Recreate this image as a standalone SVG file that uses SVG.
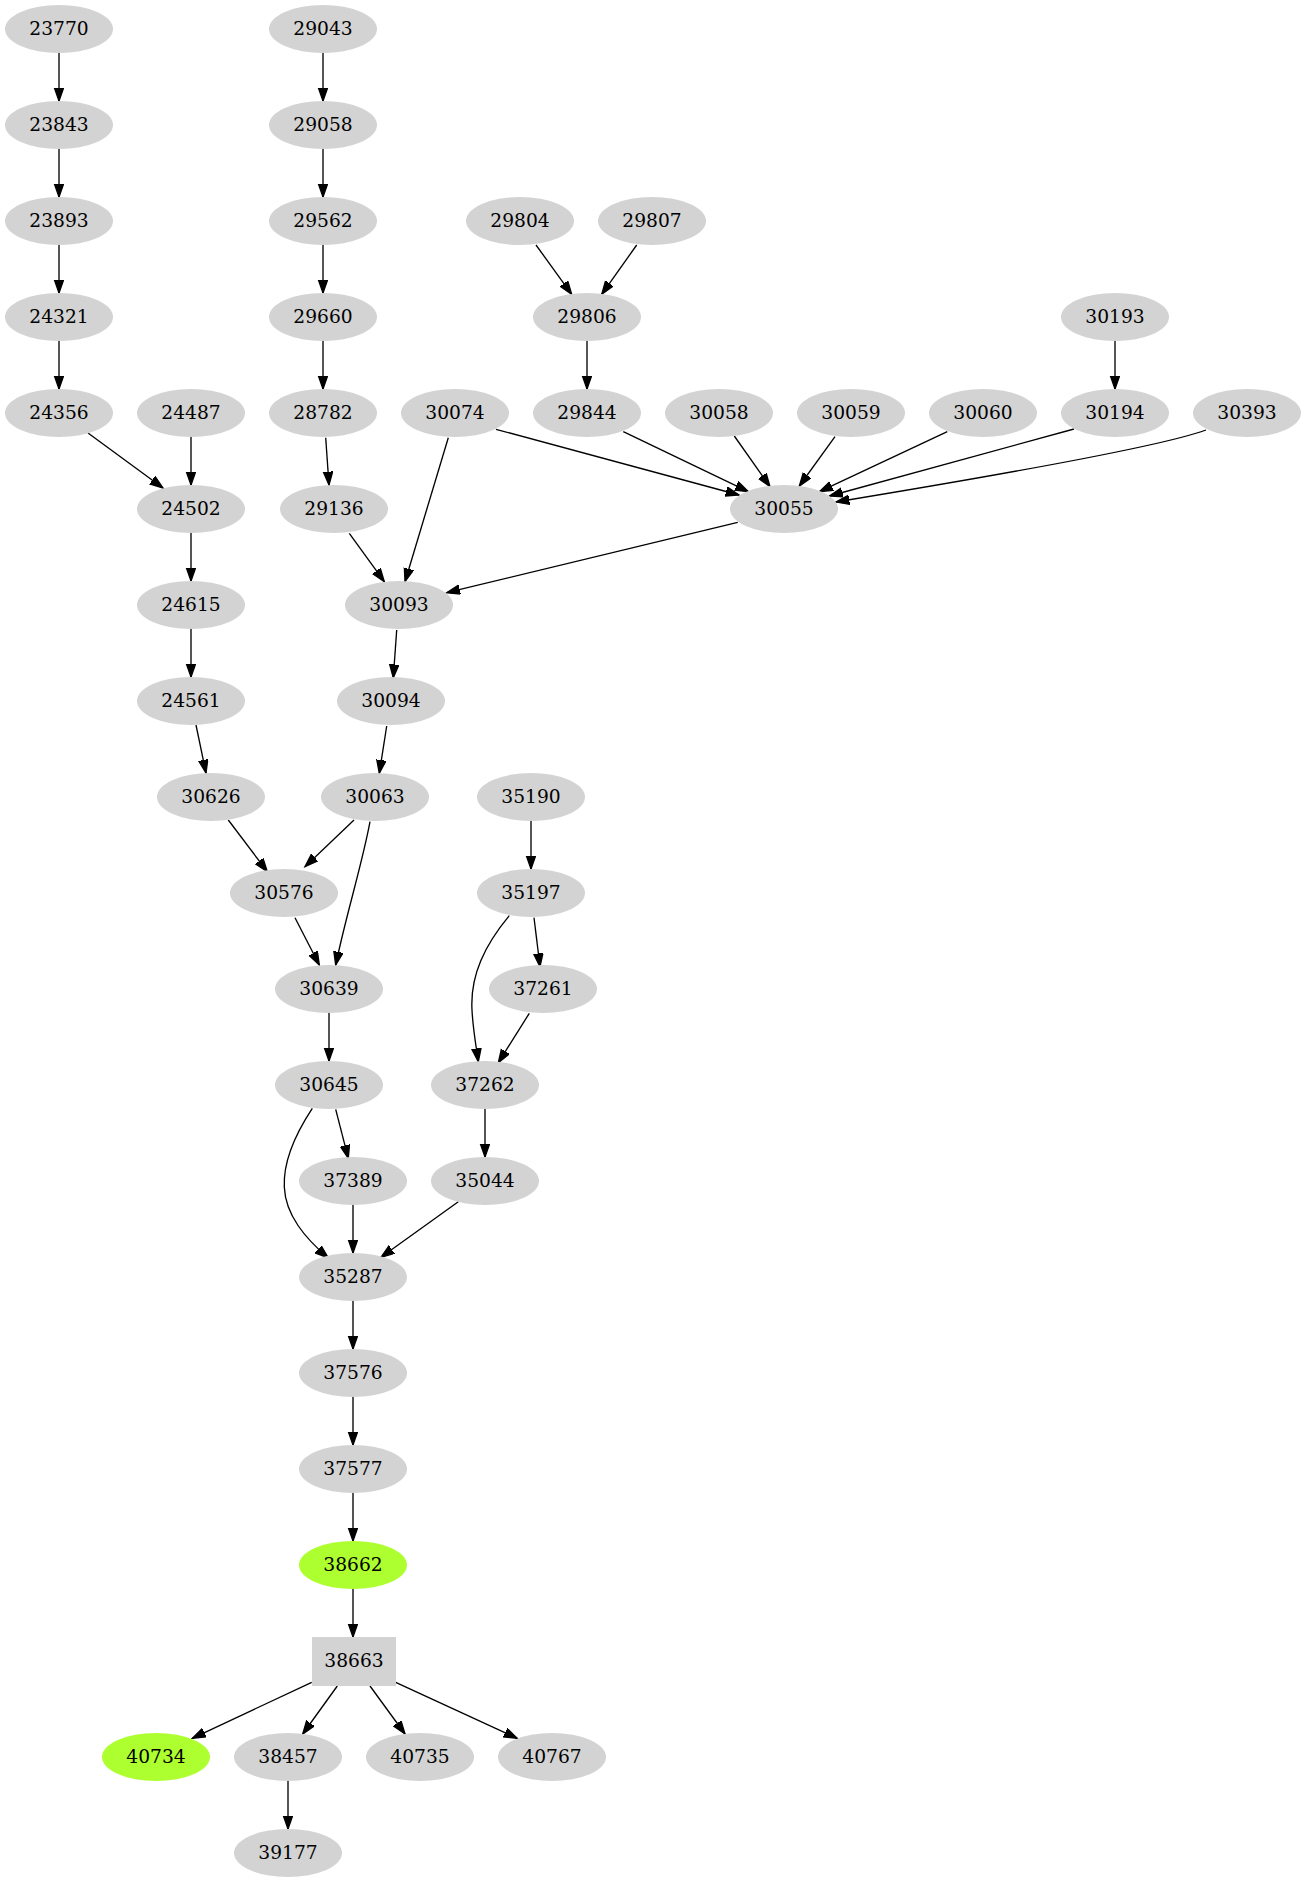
<svg xmlns="http://www.w3.org/2000/svg" width="1306" height="1883" viewBox="0 0 1306 1883">
<style>
.n ellipse,.n rect{fill:#d3d3d3;stroke:none}
.g ellipse{fill:#adff2f}
.n text{font-family:"DejaVu Serif","Liberation Serif",serif;font-size:18.67px;text-anchor:middle;fill:#000}
.e path{fill:none;stroke:#000;stroke-width:1.33;marker-end:url(#ah)}
</style>
<defs>
<marker id="ah" markerUnits="userSpaceOnUse" markerWidth="16" markerHeight="12" refX="13.3" refY="5" orient="auto" viewBox="0 0 16 12">
<path d="M0,0.33 L13.3,5 L0,9.67 z" fill="#000" stroke="#000" stroke-width="1.33"/>
</marker>
</defs>
<rect width="1306" height="1883" fill="#fff"/>
<g id="edges" class="e">
<path d="M59,53 L59,101"/>
<path d="M59,149 L59,197"/>
<path d="M59,245 L59,293"/>
<path d="M59,341 L59,389"/>
<path d="M88,433 L163,488"/>
<path d="M191,437 L191,485"/>
<path d="M191,533 L191,581"/>
<path d="M191,629 L191,677"/>
<path d="M196,725 L206,773"/>
<path d="M323,53 L323,101"/>
<path d="M323,149 L323,197"/>
<path d="M323,245 L323,293"/>
<path d="M323,341 L323,389"/>
<path d="M325.7,437.7 L329,485"/>
<path d="M349.3,533.3 L384.3,581.7"/>
<path d="M448.3,437.7 L405,581.7"/>
<path d="M737.7,522.3 L446.7,592.7"/>
<path d="M496,429.3 L739,495"/>
<path d="M623.3,431.7 L748.3,491.7"/>
<path d="M734.3,436 L770,486.7"/>
<path d="M835,436.7 L799.3,486"/>
<path d="M947.3,431.7 L819.5,491.7"/>
<path d="M1074,429 L829.5,496"/>
<path d="M1206,430 C1160,447 1000,475 836,502"/>
<path d="M536,245 L571.7,294.3"/>
<path d="M636.7,245 L601.7,294.3"/>
<path d="M587,341 L587,389"/>
<path d="M1115,341 L1115,389"/>
<path d="M396.7,630 L393.3,677.7"/>
<path d="M386.7,726 L379.3,773.3"/>
<path d="M354,820 L305,866.7"/>
<path d="M228.3,820 L267.3,871.7"/>
<path d="M370,821.7 C362,865 346,915 335.7,965"/>
<path d="M295,917.7 L319.3,965"/>
<path d="M329,1013 L329,1061"/>
<path d="M531,821 L531,869"/>
<path d="M534,917.7 L540,966.7"/>
<path d="M509.3,915.7 C485,945 470,975 472,1010 C473,1030 476,1045 478.3,1061.7"/>
<path d="M529.3,1013.3 L498.3,1062.7"/>
<path d="M335.7,1109.3 L348.3,1158.3"/>
<path d="M312.3,1108.3 C298,1130 283,1160 284.3,1187 C285.5,1215 305,1238 328.3,1258"/>
<path d="M353,1205 L353,1253"/>
<path d="M485,1109 L485,1157"/>
<path d="M458.3,1201.7 L381,1257.3"/>
<path d="M353,1301 L353,1349"/>
<path d="M353,1397 L353,1445"/>
<path d="M353,1493 L353,1541"/>
<path d="M353,1589 L353,1637"/>
<path d="M311.7,1682.3 L192.3,1738.3"/>
<path d="M337.3,1686 L302.7,1734"/>
<path d="M370,1686 L405,1734"/>
<path d="M395.7,1682.3 L517.3,1738.3"/>
<path d="M288,1781 L288,1829"/>
</g>
<g id="n23770" class="n"><ellipse cx="59" cy="29" rx="54" ry="24"/><text x="59" y="35">23770</text></g>
<g id="n29043" class="n"><ellipse cx="323" cy="29" rx="54" ry="24"/><text x="323" y="35">29043</text></g>
<g id="n23843" class="n"><ellipse cx="59" cy="125" rx="54" ry="24"/><text x="59" y="131">23843</text></g>
<g id="n29058" class="n"><ellipse cx="323" cy="125" rx="54" ry="24"/><text x="323" y="131">29058</text></g>
<g id="n23893" class="n"><ellipse cx="59" cy="221" rx="54" ry="24"/><text x="59" y="227">23893</text></g>
<g id="n29562" class="n"><ellipse cx="323" cy="221" rx="54" ry="24"/><text x="323" y="227">29562</text></g>
<g id="n29804" class="n"><ellipse cx="520" cy="221" rx="54" ry="24"/><text x="520" y="227">29804</text></g>
<g id="n29807" class="n"><ellipse cx="652" cy="221" rx="54" ry="24"/><text x="652" y="227">29807</text></g>
<g id="n24321" class="n"><ellipse cx="59" cy="317" rx="54" ry="24"/><text x="59" y="323">24321</text></g>
<g id="n29660" class="n"><ellipse cx="323" cy="317" rx="54" ry="24"/><text x="323" y="323">29660</text></g>
<g id="n29806" class="n"><ellipse cx="587" cy="317" rx="54" ry="24"/><text x="587" y="323">29806</text></g>
<g id="n30193" class="n"><ellipse cx="1115" cy="317" rx="54" ry="24"/><text x="1115" y="323">30193</text></g>
<g id="n24356" class="n"><ellipse cx="59" cy="413" rx="54" ry="24"/><text x="59" y="419">24356</text></g>
<g id="n24487" class="n"><ellipse cx="191" cy="413" rx="54" ry="24"/><text x="191" y="419">24487</text></g>
<g id="n28782" class="n"><ellipse cx="323" cy="413" rx="54" ry="24"/><text x="323" y="419">28782</text></g>
<g id="n30074" class="n"><ellipse cx="455" cy="413" rx="54" ry="24"/><text x="455" y="419">30074</text></g>
<g id="n29844" class="n"><ellipse cx="587" cy="413" rx="54" ry="24"/><text x="587" y="419">29844</text></g>
<g id="n30058" class="n"><ellipse cx="719" cy="413" rx="54" ry="24"/><text x="719" y="419">30058</text></g>
<g id="n30059" class="n"><ellipse cx="851" cy="413" rx="54" ry="24"/><text x="851" y="419">30059</text></g>
<g id="n30060" class="n"><ellipse cx="983" cy="413" rx="54" ry="24"/><text x="983" y="419">30060</text></g>
<g id="n30194" class="n"><ellipse cx="1115" cy="413" rx="54" ry="24"/><text x="1115" y="419">30194</text></g>
<g id="n30393" class="n"><ellipse cx="1247" cy="413" rx="54" ry="24"/><text x="1247" y="419">30393</text></g>
<g id="n24502" class="n"><ellipse cx="191" cy="509" rx="54" ry="24"/><text x="191" y="515">24502</text></g>
<g id="n29136" class="n"><ellipse cx="334" cy="509" rx="54" ry="24"/><text x="334" y="515">29136</text></g>
<g id="n30055" class="n"><ellipse cx="784" cy="509" rx="54" ry="24"/><text x="784" y="515">30055</text></g>
<g id="n24615" class="n"><ellipse cx="191" cy="605" rx="54" ry="24"/><text x="191" y="611">24615</text></g>
<g id="n30093" class="n"><ellipse cx="399" cy="605" rx="54" ry="24"/><text x="399" y="611">30093</text></g>
<g id="n24561" class="n"><ellipse cx="191" cy="701" rx="54" ry="24"/><text x="191" y="707">24561</text></g>
<g id="n30094" class="n"><ellipse cx="391" cy="701" rx="54" ry="24"/><text x="391" y="707">30094</text></g>
<g id="n30626" class="n"><ellipse cx="211" cy="797" rx="54" ry="24"/><text x="211" y="803">30626</text></g>
<g id="n30063" class="n"><ellipse cx="375" cy="797" rx="54" ry="24"/><text x="375" y="803">30063</text></g>
<g id="n35190" class="n"><ellipse cx="531" cy="797" rx="54" ry="24"/><text x="531" y="803">35190</text></g>
<g id="n30576" class="n"><ellipse cx="284" cy="893" rx="54" ry="24"/><text x="284" y="899">30576</text></g>
<g id="n35197" class="n"><ellipse cx="531" cy="893" rx="54" ry="24"/><text x="531" y="899">35197</text></g>
<g id="n30639" class="n"><ellipse cx="329" cy="989" rx="54" ry="24"/><text x="329" y="995">30639</text></g>
<g id="n37261" class="n"><ellipse cx="543" cy="989" rx="54" ry="24"/><text x="543" y="995">37261</text></g>
<g id="n30645" class="n"><ellipse cx="329" cy="1085" rx="54" ry="24"/><text x="329" y="1091">30645</text></g>
<g id="n37262" class="n"><ellipse cx="485" cy="1085" rx="54" ry="24"/><text x="485" y="1091">37262</text></g>
<g id="n37389" class="n"><ellipse cx="353" cy="1181" rx="54" ry="24"/><text x="353" y="1187">37389</text></g>
<g id="n35044" class="n"><ellipse cx="485" cy="1181" rx="54" ry="24"/><text x="485" y="1187">35044</text></g>
<g id="n35287" class="n"><ellipse cx="353" cy="1277" rx="54" ry="24"/><text x="353" y="1283">35287</text></g>
<g id="n37576" class="n"><ellipse cx="353" cy="1373" rx="54" ry="24"/><text x="353" y="1379">37576</text></g>
<g id="n37577" class="n"><ellipse cx="353" cy="1469" rx="54" ry="24"/><text x="353" y="1475">37577</text></g>
<g id="n38662" class="n g"><ellipse cx="353" cy="1565" rx="54" ry="24"/><text x="353" y="1571">38662</text></g>
<g id="n38663" class="n"><rect x="312" y="1637" width="84" height="49"/><text x="354" y="1667">38663</text></g>
<g id="n40734" class="n g"><ellipse cx="156" cy="1757" rx="54" ry="24"/><text x="156" y="1763">40734</text></g>
<g id="n38457" class="n"><ellipse cx="288" cy="1757" rx="54" ry="24"/><text x="288" y="1763">38457</text></g>
<g id="n40735" class="n"><ellipse cx="420" cy="1757" rx="54" ry="24"/><text x="420" y="1763">40735</text></g>
<g id="n40767" class="n"><ellipse cx="552" cy="1757" rx="54" ry="24"/><text x="552" y="1763">40767</text></g>
<g id="n39177" class="n"><ellipse cx="288" cy="1853" rx="54" ry="24"/><text x="288" y="1859">39177</text></g>
</svg>
